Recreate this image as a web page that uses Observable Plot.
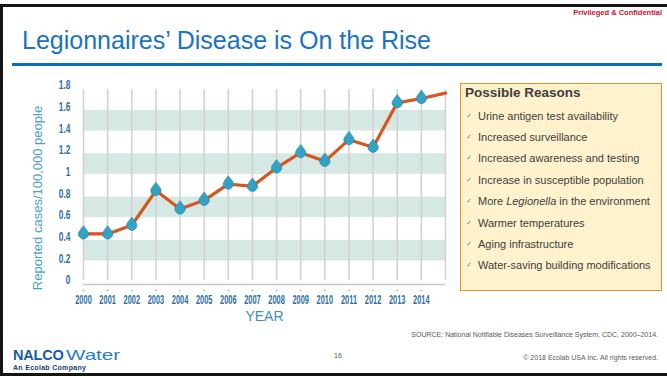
<!DOCTYPE html>
<html>
<head>
<meta charset="utf-8">
<script src="https://cdn.jsdelivr.net/npm/d3@7"></script>
<script src="https://cdn.jsdelivr.net/npm/@observablehq/plot@0.6"></script>
<style>
html,body{margin:0;padding:0;background:#fff;}
#slide{position:relative;width:667px;height:378px;overflow:hidden;background:#fff;font-family:"Liberation Sans",Arial,sans-serif;}
.frame{position:absolute;left:0;top:4px;width:680px;height:372px;border:3px solid #151515;box-sizing:border-box;}
.abs{position:absolute;white-space:nowrap;}
#title{left:22px;top:27.5px;font-size:25px;line-height:25px;color:#1b73c0;}
#rule{left:12px;top:62.5px;width:650px;height:3px;background:#0b6fbf;}
#priv{right:5px;top:9px;font-size:7.5px;line-height:7.5px;font-weight:bold;color:#c8102e;}
#chart{position:absolute;left:0;top:70px;}
#box{position:absolute;left:460px;top:83px;width:202px;height:208px;border:1.5px solid #e8922e;background:#fff2cc;box-sizing:border-box;}
#boxTitle{left:465px;top:86px;font-size:13.5px;line-height:13.5px;font-weight:bold;color:#404040;}
.item{font-size:11px;line-height:11px;color:#404040;}
.chk{font-size:7px;line-height:7px;color:#4a8fc8;font-family:"DejaVu Sans",sans-serif;}
.foot{font-size:7px;line-height:7px;color:#595959;}
#nalco{left:13px;top:347.5px;font-size:14.5px;line-height:14.5px;color:#1a5aa6;}
#nalco b{font-weight:900;letter-spacing:-0.2px;}
#water{left:66px;top:347.5px;font-size:14.5px;line-height:14.5px;color:#2b7dc8;transform:scaleX(1.42);transform-origin:left center;}
#ecolab{left:13px;top:364px;font-size:7px;line-height:7px;font-weight:bold;color:#203f72;letter-spacing:0.3px;}
</style>
</head>
<body>
<div id="slide">
  <div class="frame"></div>
  <div class="abs" id="priv">Privileged &amp; Confidential</div>
  <div class="abs" id="title">Legionnaires’ Disease is On the Rise</div>
  <div class="abs" id="rule"></div>
  <div id="chart"></div>
  <div id="box"></div>
  <div class="abs" id="boxTitle">Possible Reasons</div>
  <div id="items"></div>
  <div class="abs foot" id="source" style="right:9px;top:330.5px;">SOURCE: National Notifiable Diseases Surveillance System, CDC, 2000–2014.</div>
  <div class="abs foot" style="left:334px;top:352px;">16</div>
  <div class="abs foot" style="right:9px;top:354px;">© 2018 Ecolab USA Inc. All rights reserved.</div>
  <div class="abs" id="nalco"><b>NALCO</b></div>
  <div class="abs" id="water">Water</div>
  <div class="abs" id="ecolab">An Ecolab Company</div>
</div>
<script>
// ---- data ----
const years = [2000, 2001, 2002, 2003, 2004, 2005, 2006, 2007, 2008, 2009, 2010, 2011, 2012, 2013, 2014, 2015];
const rates = [0.43, 0.43, 0.51, 0.83, 0.66, 0.74, 0.89, 0.87, 1.04, 1.18, 1.10, 1.30, 1.23, 1.64, 1.68, 1.73];
const markerYears = [2000, 2001, 2002, 2003, 2004, 2005, 2006, 2007, 2008, 2009, 2010, 2011, 2012, 2013, 2014];
const yTicks = [0, 0.2, 0.4, 0.6, 0.8, 1, 1.2, 1.4, 1.6, 1.8];
const bandLow = [0.18, 0.58, 0.98, 1.38];
const bandHigh = [0.37, 0.77, 1.17, 1.57];
const xLabel = "YEAR";
const yLabel = "Reported cases/100,000 people";
const reasons = [
  "Urine antigen test availability",
  "Increased surveillance",
  "Increased awareness and testing",
  "Increase in susceptible population",
  "More <i>Legionella</i> in the environment",
  "Warmer temperatures",
  "Aging infrastructure",
  "Water-saving building modifications"
];

// ---- reasons list ----
const itemsEl = document.getElementById("items");
reasons.forEach((t, i) => {
  const c = 116 + 21.4 * i;
  const chk = document.createElement("div");
  chk.className = "abs chk";
  chk.style.left = "466px";
  chk.style.top = (c - 3.5) + "px";
  chk.textContent = "✓";
  itemsEl.appendChild(chk);
  const d = document.createElement("div");
  d.className = "abs item";
  d.style.left = "478px";
  d.style.top = (c - 5.35) + "px";
  d.innerHTML = t;
  itemsEl.appendChild(d);
});

// ---- drop symbol ----
const drop = {
  draw(ctx, size) {
    const r = Math.sqrt(size / Math.PI);
    const h = r * 1.65;
    const a = Math.acos(r / h);
    ctx.moveTo(0, -h);
    ctx.arc(0, 0, r, -Math.PI / 2 + a, 3 * Math.PI / 2 - a);
    ctx.closePath();
  }
};

const font = '"Liberation Sans", Arial, sans-serif';
const chart = Plot.plot({
  width: 460,
  height: 265,
  marginLeft: 83,
  marginRight: 15,
  marginTop: 15,
  marginBottom: 55,
  x: {domain: [years[0], years[years.length - 1]]},
  y: {domain: [yTicks[0], yTicks[yTicks.length - 1]]},
  style: {fontFamily: font, background: "transparent", overflow: "visible"},
  marks: [
    Plot.rect(bandLow, {x1: years[0], x2: years[years.length - 1], y1: d => d, y2: (d, i) => bandHigh[i], fill: "#d5e8e3"}),
    Plot.ruleX(years, {x: d => d, y1: yTicks[0], y2: yTicks[yTicks.length - 1], stroke: "#d0d0d0", strokeWidth: 1.5, insetBottom: -4}),
    Plot.ruleY([0], {stroke: "#c6c6c6", strokeWidth: 1.5, dy: 4}),
    Plot.dot(markerYears, {x: d => d, y: 0, dy: 10, r: 1.2, fill: "#cfcfcf"}),
    Plot.line(years, {x: d => d, y: (d, i) => rates[i], stroke: "#d9541f", strokeWidth: 3.2}),
    Plot.dot(markerYears, {x: d => d, y: (d, i) => rates[i], symbol: drop, r: 5, fill: "#34a2c2", stroke: "#1e86a8", strokeWidth: 0.6}),
    Plot.axisX({ticks: markerYears, tickSize: 0, tickPadding: 15, tickFormat: d => String(d), fontSize: 12, fontWeight: "bold", color: "#2f6fa5", label: null}),
    Plot.axisY({ticks: yTicks, tickSize: 0, tickPadding: 13, tickFormat: d => String(+d.toFixed(1)), fontSize: 12, fontWeight: "bold", color: "#2f6fa5", label: null}),
    Plot.text([xLabel], {frameAnchor: "bottom", dy: 40.7, fontSize: 14, fill: "#3d8dbd", ariaLabel: "xlabel"}),
    Plot.text([yLabel], {frameAnchor: "left", textAnchor: "middle", rotate: -90, dx: -45.5, dy: 15, fontSize: 13, fill: "#4aa3c4", ariaLabel: "ylabel"})
  ]
});
document.getElementById("chart").appendChild(chart);

// condensed look of the original lettering: squeeze text horizontally around its anchor
function squeeze(label, sx, sy) {
  chart.querySelectorAll(`g[aria-label="${label}"] text`).forEach(t => {
    const tr = t.getAttribute("transform") || "";
    t.setAttribute("transform", `${tr} scale(${sx},${sy})`);
  });
}
squeeze("x-axis tick label", 0.62, 1);
squeeze("y-axis tick label", 0.7, 1);
squeeze("xlabel", 0.78, 1);
squeeze("ylabel", 0.92, 1);
</script>
</body>
</html>
